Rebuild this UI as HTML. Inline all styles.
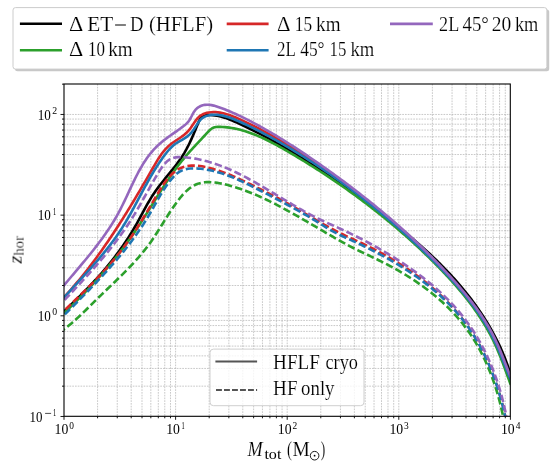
<!DOCTYPE html>
<html><head><meta charset="utf-8">
<style>
html,body{margin:0;padding:0;background:#fff;}
body{width:554px;height:468px;position:relative;overflow:hidden;font-family:"Liberation Serif",serif;color:#000;}
</style></head><body>
<svg width="554" height="468" viewBox="0 0 554 468" style="position:absolute;left:0;top:0">
<defs><clipPath id="pa"><rect x="64.00" y="84.00" width="446.30" height="332.30"/></clipPath></defs>
<path d="M97.59,84.00V416.30M117.25,84.00V416.30M131.19,84.00V416.30M142.01,84.00V416.30M150.84,84.00V416.30M158.31,84.00V416.30M164.78,84.00V416.30M170.49,84.00V416.30M175.60,84.00V416.30M209.19,84.00V416.30M228.85,84.00V416.30M242.79,84.00V416.30M253.61,84.00V416.30M262.44,84.00V416.30M269.91,84.00V416.30M276.38,84.00V416.30M282.09,84.00V416.30M287.20,84.00V416.30M320.79,84.00V416.30M340.45,84.00V416.30M354.39,84.00V416.30M365.21,84.00V416.30M374.04,84.00V416.30M381.51,84.00V416.30M387.98,84.00V416.30M393.69,84.00V416.30M398.80,84.00V416.30M432.39,84.00V416.30M452.05,84.00V416.30M465.99,84.00V416.30M476.81,84.00V416.30M485.64,84.00V416.30M493.11,84.00V416.30M499.58,84.00V416.30M505.29,84.00V416.30M64.00,386.17H510.30M64.00,368.44H510.30M64.00,355.86H510.30M64.00,346.10H510.30M64.00,338.13H510.30M64.00,331.39H510.30M64.00,325.56H510.30M64.00,320.41H510.30M64.00,315.80H510.30M64.00,285.50H510.30M64.00,267.77H510.30M64.00,255.19H510.30M64.00,245.43H510.30M64.00,237.46H510.30M64.00,230.72H510.30M64.00,224.89H510.30M64.00,219.74H510.30M64.00,215.13H510.30M64.00,184.83H510.30M64.00,167.10H510.30M64.00,154.52H510.30M64.00,144.76H510.30M64.00,136.79H510.30M64.00,130.05H510.30M64.00,124.22H510.30M64.00,119.07H510.30M64.00,114.46H510.30" stroke="#a4a4a4" stroke-width="0.6" stroke-dasharray="1.7 1.05" fill="none"/>
<g clip-path="url(#pa)" fill="none" stroke-width="2.6">
<path d="M49.95,325.46 L51.55,323.85 L53.15,322.24 L54.76,320.63 L56.37,319.03 L57.98,317.44 L59.60,315.85 L61.22,314.27 L62.84,312.68 L64.46,311.10 L66.08,309.53 L67.70,307.95 L69.32,306.37 L70.94,304.80 L72.56,303.22 L74.17,301.64 L75.78,300.07 L77.39,298.48 L79.00,296.90 L80.60,295.31 L82.19,293.71 L83.78,292.12 L85.37,290.51 L86.95,288.90 L88.52,287.28 L90.08,285.65 L91.64,284.02 L93.19,282.38 L94.73,280.72 L96.26,279.06 L97.78,277.38 L99.29,275.70 L100.79,274.00 L102.28,272.29 L103.76,270.57 L105.23,268.84 L106.68,267.10 L108.12,265.35 L109.56,263.59 L110.98,261.82 L112.38,260.03 L113.78,258.24 L115.16,256.43 L116.52,254.62 L117.88,252.80 L119.22,250.96 L120.54,249.12 L121.85,247.26 L123.15,245.40 L124.43,243.52 L125.70,241.64 L126.95,239.75 L128.18,237.84 L129.40,235.93 L130.61,234.01 L131.79,232.08 L132.96,230.14 L134.11,228.19 L135.25,226.23 L136.37,224.27 L137.47,222.29 L138.55,220.31 L139.63,218.32 L140.71,216.34 L141.78,214.35 L142.85,212.36 L143.92,210.37 L145.00,208.39 L146.09,206.42 L147.19,204.45 L148.31,202.49 L149.45,200.54 L150.61,198.61 L151.80,196.69 L153.02,194.79 L154.27,192.91 L155.56,191.05 L156.87,189.20 L158.22,187.38 L159.60,185.57 L160.99,183.77 L162.41,181.98 L163.84,180.20 L165.27,178.42 L166.72,176.66 L168.16,174.89 L169.61,173.12 L171.04,171.35 L172.47,169.58 L173.89,167.80 L175.28,166.01 L176.66,164.21 L178.01,162.40 L179.33,160.57 L180.62,158.73 L181.87,156.87 L183.07,154.99 L184.24,153.08 L185.36,151.15 L186.45,149.20 L187.49,147.23 L188.51,145.24 L189.50,143.22 L190.47,141.18 L191.41,139.12 L192.33,137.04 L193.24,134.94 L194.14,132.82 L195.04,130.68 L195.93,128.52 L196.82,126.34 L197.71,124.15 L198.62,121.94 L199.61,119.84 L200.77,117.99 L202.20,116.53 L203.98,115.59 L206.04,115.12 L208.26,114.98 L210.52,115.02 L212.76,115.17 L214.98,115.44 L217.18,115.80 L219.37,116.26 L221.54,116.81 L223.70,117.43 L225.85,118.13 L227.98,118.88 L230.11,119.69 L232.22,120.55 L234.32,121.45 L236.41,122.37 L238.50,123.32 L240.58,124.29 L242.65,125.26 L244.71,126.25 L246.77,127.24 L248.82,128.24 L250.87,129.25 L252.91,130.26 L254.94,131.29 L256.97,132.32 L258.99,133.36 L261.00,134.41 L263.01,135.47 L265.02,136.53 L267.02,137.60 L269.01,138.68 L271.00,139.77 L272.98,140.86 L274.96,141.96 L276.93,143.07 L278.90,144.19 L280.86,145.31 L282.82,146.44 L284.77,147.57 L286.72,148.72 L288.66,149.86 L290.60,151.02 L292.53,152.18 L294.46,153.35 L296.39,154.52 L298.31,155.71 L300.23,156.89 L302.14,158.09 L304.05,159.28 L305.95,160.49 L307.86,161.70 L309.75,162.92 L311.65,164.14 L313.54,165.36 L315.42,166.60 L317.31,167.83 L319.19,169.08 L321.06,170.32 L322.94,171.58 L324.81,172.84 L326.67,174.10 L328.54,175.37 L330.40,176.64 L332.26,177.91 L334.12,179.20 L335.97,180.48 L337.82,181.77 L339.67,183.07 L341.52,184.36 L343.36,185.67 L345.20,186.97 L347.04,188.28 L348.88,189.60 L350.72,190.91 L352.55,192.24 L354.38,193.56 L356.21,194.89 L358.04,196.22 L359.87,197.55 L361.69,198.89 L363.52,200.23 L365.34,201.58 L367.16,202.92 L368.99,204.27 L370.80,205.63 L372.62,206.98 L374.44,208.35 L376.25,209.71 L378.06,211.08 L379.87,212.45 L381.68,213.82 L383.48,215.20 L385.28,216.59 L387.07,217.98 L388.87,219.37 L390.66,220.77 L392.44,222.17 L394.22,223.58 L396.00,224.99 L397.78,226.41 L399.54,227.83 L401.31,229.26 L403.07,230.70 L404.82,232.14 L406.57,233.58 L408.31,235.04 L410.05,236.49 L411.78,237.96 L413.51,239.43 L415.23,240.91 L416.94,242.39 L418.65,243.89 L420.35,245.39 L422.04,246.89 L423.73,248.41 L425.41,249.93 L427.08,251.45 L428.75,252.99 L430.40,254.54 L432.05,256.09 L433.69,257.65 L435.32,259.22 L436.95,260.79 L438.56,262.38 L440.17,263.97 L441.76,265.58 L443.35,267.19 L444.93,268.81 L446.50,270.44 L448.06,272.08 L449.61,273.73 L451.15,275.39 L452.67,277.06 L454.19,278.73 L455.70,280.42 L457.20,282.12 L458.68,283.83 L460.15,285.55 L461.62,287.27 L463.06,289.01 L464.50,290.76 L465.93,292.52 L467.34,294.29 L468.74,296.06 L470.12,297.85 L471.49,299.65 L472.85,301.46 L474.19,303.27 L475.52,305.10 L476.83,306.94 L478.13,308.79 L479.42,310.65 L480.68,312.52 L481.94,314.39 L483.17,316.28 L484.39,318.18 L485.60,320.09 L486.78,322.01 L487.95,323.94 L489.11,325.88 L490.24,327.83 L491.36,329.80 L492.46,331.77 L493.54,333.75 L494.60,335.74 L495.64,337.74 L496.67,339.76 L497.67,341.78 L498.66,343.81 L499.62,345.86 L500.57,347.91 L501.49,349.98 L502.40,352.06 L503.28,354.14 L504.14,356.24 L504.98,358.35 L505.80,360.47 L506.60,362.60 L507.37,364.74 L508.12,366.89 L508.85,369.05 L509.56,371.22 L510.24,373.40" stroke="#000000" stroke-linejoin="round" stroke-linecap="round"/>
<path d="M49.85,325.89 L51.53,324.40 L53.21,322.91 L54.88,321.41 L56.54,319.91 L58.20,318.40 L59.86,316.89 L61.50,315.37 L63.14,313.85 L64.78,312.32 L66.41,310.78 L68.03,309.24 L69.65,307.70 L71.26,306.15 L72.86,304.59 L74.46,303.03 L76.05,301.46 L77.64,299.89 L79.22,298.31 L80.79,296.72 L82.36,295.13 L83.91,293.53 L85.47,291.93 L87.01,290.32 L88.55,288.70 L90.08,287.08 L91.60,285.45 L93.12,283.82 L94.63,282.17 L96.13,280.53 L97.62,278.87 L99.11,277.21 L100.59,275.55 L102.06,273.87 L103.52,272.19 L104.98,270.51 L106.42,268.82 L107.86,267.12 L109.30,265.41 L110.72,263.70 L112.13,261.98 L113.54,260.25 L114.94,258.52 L116.33,256.78 L117.71,255.03 L119.08,253.27 L120.44,251.51 L121.80,249.74 L123.15,247.97 L124.48,246.18 L125.81,244.39 L127.13,242.59 L128.44,240.79 L129.74,238.97 L131.03,237.15 L132.32,235.33 L133.59,233.49 L134.85,231.65 L136.11,229.79 L137.35,227.94 L138.59,226.07 L139.81,224.20 L141.03,222.32 L142.25,220.44 L143.46,218.55 L144.66,216.66 L145.86,214.77 L147.05,212.87 L148.24,210.97 L149.43,209.07 L150.62,207.17 L151.80,205.26 L152.99,203.36 L154.17,201.46 L155.36,199.56 L156.55,197.66 L157.74,195.77 L158.94,193.88 L160.13,191.99 L161.34,190.10 L162.55,188.22 L163.76,186.35 L164.98,184.48 L166.21,182.62 L167.44,180.77 L168.69,178.92 L169.94,177.09 L171.21,175.26 L172.49,173.44 L173.77,171.63 L175.07,169.84 L176.38,168.05 L177.71,166.28 L179.05,164.52 L180.41,162.77 L181.78,161.04 L183.17,159.32 L184.57,157.62 L186.00,155.93 L187.44,154.26 L188.89,152.60 L190.36,150.95 L191.85,149.31 L193.34,147.67 L194.84,146.04 L196.36,144.42 L197.88,142.79 L199.40,141.16 L200.93,139.53 L202.46,137.90 L204.00,136.25 L205.53,134.60 L207.06,132.94 L208.60,131.28 L210.19,129.73 L211.90,128.44 L213.79,127.53 L215.87,127.03 L218.08,126.84 L220.35,126.85 L222.62,126.95 L224.89,127.12 L227.14,127.34 L229.38,127.63 L231.60,127.97 L233.82,128.36 L236.01,128.80 L238.20,129.30 L240.37,129.84 L242.52,130.42 L244.65,131.05 L246.78,131.71 L248.88,132.42 L250.98,133.16 L253.05,133.94 L255.12,134.75 L257.17,135.60 L259.22,136.47 L261.25,137.37 L263.27,138.30 L265.28,139.26 L267.28,140.24 L269.27,141.24 L271.25,142.26 L273.22,143.30 L275.19,144.35 L277.15,145.42 L279.11,146.51 L281.06,147.60 L283.00,148.71 L284.94,149.82 L286.88,150.94 L288.81,152.07 L290.74,153.20 L292.67,154.34 L294.59,155.48 L296.51,156.63 L298.43,157.78 L300.34,158.93 L302.25,160.10 L304.16,161.26 L306.06,162.43 L307.96,163.61 L309.86,164.79 L311.75,165.98 L313.64,167.17 L315.52,168.37 L317.41,169.57 L319.28,170.78 L321.16,172.00 L323.03,173.21 L324.90,174.44 L326.76,175.67 L328.62,176.90 L330.48,178.14 L332.33,179.39 L334.18,180.64 L336.03,181.89 L337.87,183.15 L339.70,184.42 L341.54,185.69 L343.37,186.97 L345.19,188.25 L347.02,189.54 L348.83,190.83 L350.65,192.13 L352.46,193.43 L354.26,194.74 L356.07,196.06 L357.86,197.38 L359.66,198.70 L361.45,200.03 L363.23,201.37 L365.01,202.71 L366.79,204.06 L368.56,205.41 L370.33,206.77 L372.09,208.14 L373.85,209.51 L375.61,210.88 L377.36,212.26 L379.11,213.65 L380.85,215.04 L382.59,216.44 L384.32,217.84 L386.05,219.25 L387.77,220.67 L389.49,222.09 L391.21,223.51 L392.92,224.94 L394.63,226.38 L396.33,227.83 L398.02,229.27 L399.72,230.73 L401.40,232.19 L403.09,233.66 L404.77,235.13 L406.44,236.61 L408.11,238.09 L409.77,239.58 L411.43,241.08 L413.08,242.58 L414.73,244.08 L416.38,245.60 L418.02,247.12 L419.65,248.64 L421.28,250.17 L422.90,251.71 L424.52,253.25 L426.14,254.80 L427.74,256.35 L429.35,257.91 L430.95,259.48 L432.54,261.05 L434.13,262.63 L435.71,264.22 L437.29,265.81 L438.86,267.40 L440.42,269.01 L441.98,270.62 L443.53,272.24 L445.07,273.86 L446.60,275.50 L448.13,277.13 L449.64,278.78 L451.15,280.44 L452.64,282.10 L454.13,283.77 L455.60,285.45 L457.07,287.14 L458.52,288.84 L459.97,290.54 L461.40,292.25 L462.81,293.98 L464.22,295.71 L465.61,297.45 L466.99,299.20 L468.36,300.96 L469.71,302.73 L471.04,304.51 L472.37,306.30 L473.67,308.11 L474.96,309.92 L476.24,311.74 L477.50,313.57 L478.74,315.41 L479.96,317.27 L481.17,319.13 L482.36,321.01 L483.53,322.90 L484.69,324.80 L485.82,326.71 L486.94,328.64 L488.03,330.57 L489.11,332.52 L490.16,334.48 L491.20,336.45 L492.21,338.44 L493.20,340.44 L494.17,342.45 L495.12,344.48 L496.04,346.51 L496.95,348.56 L497.84,350.62 L498.70,352.69 L499.56,354.77 L500.39,356.85 L501.22,358.94 L502.03,361.04 L502.83,363.13 L503.62,365.23 L504.40,367.33 L505.17,369.43 L505.94,371.53 L506.70,373.62 L507.46,375.71 L508.21,377.80 L508.97,379.88 L509.72,381.95 L510.48,384.01" stroke="#2ca02c" stroke-linejoin="round" stroke-linecap="round"/>
<path d="M49.50,312.20 L51.14,310.60 L52.77,308.99 L54.38,307.37 L55.98,305.74 L57.57,304.11 L59.15,302.47 L60.72,300.82 L62.28,299.16 L63.82,297.50 L65.35,295.83 L66.88,294.15 L68.39,292.47 L69.89,290.77 L71.38,289.08 L72.86,287.37 L74.33,285.66 L75.79,283.94 L77.24,282.21 L78.69,280.48 L80.12,278.75 L81.54,277.00 L82.95,275.25 L84.36,273.49 L85.75,271.73 L87.14,269.96 L88.52,268.19 L89.88,266.41 L91.25,264.62 L92.60,262.83 L93.94,261.03 L95.28,259.23 L96.61,257.42 L97.93,255.60 L99.24,253.78 L100.55,251.96 L101.85,250.13 L103.14,248.30 L104.43,246.46 L105.71,244.61 L106.98,242.76 L108.24,240.91 L109.50,239.05 L110.76,237.19 L112.00,235.32 L113.25,233.45 L114.48,231.57 L115.71,229.69 L116.94,227.81 L118.16,225.92 L119.37,224.02 L120.58,222.13 L121.79,220.23 L122.99,218.32 L124.18,216.42 L125.38,214.50 L126.56,212.59 L127.75,210.67 L128.93,208.75 L130.10,206.82 L131.27,204.90 L132.44,202.97 L133.61,201.03 L134.77,199.09 L135.93,197.15 L137.08,195.21 L138.24,193.27 L139.39,191.32 L140.54,189.37 L141.68,187.41 L142.83,185.46 L143.97,183.50 L145.11,181.54 L146.25,179.58 L147.39,177.61 L148.52,175.65 L149.66,173.68 L150.79,171.71 L151.92,169.74 L153.05,167.77 L154.19,165.79 L155.33,163.83 L156.48,161.87 L157.65,159.94 L158.85,158.03 L160.09,156.16 L161.36,154.33 L162.69,152.55 L164.06,150.83 L165.50,149.16 L167.01,147.57 L168.59,146.05 L170.25,144.62 L171.99,143.26 L173.79,141.97 L175.64,140.72 L177.51,139.48 L179.39,138.24 L181.24,136.97 L183.06,135.65 L184.83,134.26 L186.52,132.77 L188.12,131.16 L189.60,129.41 L190.98,127.54 L192.30,125.60 L193.59,123.64 L194.88,121.70 L196.23,119.86 L197.65,118.14 L199.20,116.61 L200.91,115.31 L202.78,114.26 L204.78,113.46 L206.87,112.87 L209.02,112.46 L211.19,112.21 L213.36,112.12 L215.54,112.17 L217.72,112.35 L219.91,112.64 L222.09,113.05 L224.28,113.56 L226.47,114.16 L228.65,114.85 L230.83,115.60 L233.00,116.42 L235.16,117.29 L237.31,118.20 L239.45,119.14 L241.58,120.11 L243.70,121.09 L245.79,122.07 L247.88,123.07 L249.95,124.08 L252.01,125.09 L254.05,126.12 L256.08,127.15 L258.10,128.19 L260.11,129.24 L262.11,130.29 L264.10,131.36 L266.08,132.43 L268.05,133.51 L270.01,134.60 L271.97,135.70 L273.92,136.80 L275.86,137.91 L277.79,139.03 L279.72,140.16 L281.64,141.29 L283.56,142.43 L285.47,143.58 L287.39,144.73 L289.29,145.89 L291.20,147.05 L293.10,148.23 L295.00,149.41 L296.89,150.59 L298.79,151.78 L300.67,152.98 L302.56,154.19 L304.44,155.40 L306.32,156.62 L308.20,157.84 L310.07,159.07 L311.94,160.31 L313.81,161.55 L315.67,162.80 L317.53,164.05 L319.39,165.31 L321.24,166.58 L323.09,167.85 L324.94,169.13 L326.78,170.42 L328.62,171.71 L330.45,173.00 L332.29,174.30 L334.12,175.61 L335.94,176.93 L337.76,178.25 L339.58,179.57 L341.40,180.90 L343.21,182.24 L345.02,183.58 L346.82,184.93 L348.62,186.29 L350.42,187.65 L352.21,189.01 L354.00,190.38 L355.79,191.76 L357.57,193.14 L359.35,194.53 L361.13,195.92 L362.90,197.32 L364.67,198.72 L366.43,200.13 L368.19,201.54 L369.95,202.96 L371.70,204.38 L373.45,205.81 L375.20,207.25 L376.94,208.69 L378.68,210.13 L380.41,211.58 L382.14,213.04 L383.87,214.49 L385.59,215.96 L387.31,217.43 L389.03,218.90 L390.74,220.38 L392.44,221.87 L394.15,223.36 L395.84,224.85 L397.54,226.35 L399.23,227.85 L400.92,229.36 L402.60,230.87 L404.28,232.39 L405.95,233.91 L407.62,235.44 L409.29,236.97 L410.95,238.50 L412.61,240.04 L414.26,241.59 L415.91,243.13 L417.56,244.69 L419.20,246.24 L420.84,247.81 L422.47,249.37 L424.10,250.94 L425.73,252.52 L427.35,254.09 L428.96,255.68 L430.57,257.26 L432.18,258.85 L433.78,260.45 L435.38,262.05 L436.98,263.65 L438.56,265.26 L440.14,266.88 L441.72,268.49 L443.29,270.12 L444.85,271.75 L446.40,273.39 L447.95,275.03 L449.49,276.68 L451.02,278.34 L452.54,280.00 L454.05,281.67 L455.55,283.35 L457.03,285.03 L458.51,286.73 L459.98,288.43 L461.44,290.14 L462.88,291.86 L464.31,293.59 L465.73,295.33 L467.14,297.08 L468.53,298.84 L469.90,300.61 L471.27,302.39 L472.61,304.18 L473.95,305.98 L475.26,307.79 L476.56,309.61 L477.85,311.45 L479.12,313.29 L480.37,315.15 L481.60,317.02 L482.81,318.91 L484.01,320.80 L485.18,322.71 L486.34,324.64 L487.48,326.58 L488.59,328.53 L489.69,330.49 L490.77,332.47 L491.82,334.47 L492.85,336.48 L493.86,338.50 L494.85,340.54 L495.81,342.60 L496.76,344.67 L497.68,346.75 L498.59,348.84 L499.48,350.93 L500.36,353.04 L501.22,355.14 L502.08,357.25 L502.92,359.36 L503.76,361.47 L504.60,363.57 L505.43,365.66 L506.25,367.75 L507.08,369.83 L507.91,371.90 L508.74,373.95 L509.58,375.99 L510.43,378.01" stroke="#d62728" stroke-linejoin="round" stroke-linecap="round"/>
<path d="M50.11,313.85 L51.52,312.12 L52.95,310.41 L54.39,308.70 L55.84,306.99 L57.29,305.29 L58.76,303.60 L60.24,301.91 L61.72,300.23 L63.21,298.55 L64.70,296.87 L66.20,295.20 L67.71,293.53 L69.22,291.87 L70.74,290.20 L72.25,288.54 L73.77,286.88 L75.30,285.22 L76.82,283.55 L78.34,281.89 L79.86,280.23 L81.38,278.57 L82.90,276.90 L84.42,275.24 L85.94,273.57 L87.45,271.89 L88.96,270.22 L90.46,268.54 L91.95,266.85 L93.44,265.17 L94.93,263.47 L96.40,261.77 L97.87,260.07 L99.33,258.36 L100.78,256.64 L102.22,254.91 L103.65,253.18 L105.06,251.43 L106.47,249.68 L107.86,247.92 L109.24,246.15 L110.60,244.37 L111.95,242.58 L113.29,240.78 L114.61,238.97 L115.91,237.14 L117.19,235.31 L118.46,233.46 L119.71,231.59 L120.93,229.72 L122.14,227.83 L123.33,225.92 L124.51,224.01 L125.67,222.08 L126.81,220.15 L127.94,218.20 L129.06,216.25 L130.17,214.29 L131.27,212.32 L132.35,210.34 L133.44,208.36 L134.51,206.38 L135.58,204.39 L136.65,202.40 L137.71,200.41 L138.77,198.42 L139.83,196.43 L140.89,194.44 L141.95,192.45 L143.02,190.46 L144.09,188.47 L145.16,186.49 L146.24,184.52 L147.33,182.55 L148.43,180.58 L149.53,178.63 L150.65,176.68 L151.78,174.74 L152.92,172.81 L154.08,170.89 L155.25,168.98 L156.44,167.09 L157.64,165.21 L158.87,163.34 L160.11,161.49 L161.38,159.65 L162.67,157.83 L163.98,156.03 L165.32,154.24 L166.69,152.48 L168.10,150.76 L169.56,149.09 L171.09,147.49 L172.71,145.98 L174.43,144.56 L176.25,143.27 L178.16,142.06 L180.12,140.91 L182.10,139.78 L184.06,138.62 L185.96,137.40 L187.77,136.08 L189.45,134.62 L190.98,133.02 L192.41,131.28 L193.74,129.45 L195.02,127.54 L196.25,125.59 L197.50,123.64 L198.80,121.78 L200.21,120.06 L201.77,118.56 L203.52,117.33 L205.43,116.37 L207.47,115.66 L209.60,115.16 L211.78,114.86 L213.97,114.73 L216.16,114.75 L218.35,114.92 L220.53,115.21 L222.71,115.63 L224.88,116.15 L227.04,116.77 L229.20,117.47 L231.34,118.24 L233.48,119.07 L235.61,119.95 L237.73,120.86 L239.84,121.80 L241.94,122.75 L244.02,123.71 L246.10,124.68 L248.16,125.66 L250.21,126.64 L252.25,127.64 L254.29,128.64 L256.31,129.65 L258.32,130.67 L260.33,131.70 L262.32,132.74 L264.31,133.78 L266.29,134.84 L268.27,135.90 L270.23,136.97 L272.20,138.04 L274.15,139.13 L276.10,140.22 L278.04,141.32 L279.98,142.43 L281.91,143.54 L283.84,144.66 L285.77,145.79 L287.69,146.92 L289.61,148.06 L291.52,149.21 L293.43,150.36 L295.34,151.52 L297.25,152.69 L299.15,153.86 L301.05,155.04 L302.94,156.23 L304.83,157.42 L306.72,158.62 L308.60,159.83 L310.48,161.04 L312.36,162.26 L314.24,163.48 L316.11,164.71 L317.97,165.95 L319.84,167.19 L321.69,168.44 L323.55,169.70 L325.40,170.96 L327.25,172.23 L329.10,173.50 L330.94,174.78 L332.78,176.07 L334.61,177.36 L336.44,178.66 L338.27,179.96 L340.09,181.27 L341.91,182.59 L343.73,183.91 L345.54,185.24 L347.35,186.57 L349.15,187.91 L350.95,189.25 L352.75,190.60 L354.54,191.96 L356.33,193.32 L358.12,194.69 L359.90,196.06 L361.67,197.44 L363.45,198.83 L365.22,200.21 L366.98,201.61 L368.75,203.01 L370.50,204.42 L372.26,205.83 L374.01,207.24 L375.75,208.67 L377.50,210.09 L379.23,211.53 L380.97,212.96 L382.70,214.41 L384.43,215.86 L386.15,217.31 L387.87,218.77 L389.58,220.23 L391.29,221.70 L393.00,223.17 L394.70,224.65 L396.39,226.14 L398.09,227.63 L399.78,229.12 L401.46,230.62 L403.14,232.12 L404.82,233.63 L406.49,235.14 L408.16,236.66 L409.82,238.18 L411.48,239.71 L413.14,241.24 L414.79,242.78 L416.44,244.32 L418.08,245.87 L419.72,247.42 L421.35,248.97 L422.98,250.53 L424.61,252.10 L426.23,253.67 L427.84,255.24 L429.46,256.82 L431.06,258.40 L432.67,259.99 L434.27,261.58 L435.86,263.17 L437.45,264.77 L439.03,266.38 L440.61,267.99 L442.18,269.61 L443.74,271.23 L445.29,272.86 L446.84,274.49 L448.38,276.13 L449.91,277.78 L451.44,279.44 L452.95,281.10 L454.45,282.77 L455.94,284.45 L457.43,286.13 L458.90,287.83 L460.36,289.53 L461.80,291.24 L463.24,292.96 L464.66,294.69 L466.07,296.43 L467.47,298.18 L468.85,299.94 L470.22,301.70 L471.57,303.48 L472.91,305.27 L474.24,307.07 L475.54,308.89 L476.83,310.71 L478.11,312.54 L479.37,314.39 L480.61,316.25 L481.83,318.12 L483.03,320.00 L484.22,321.90 L485.38,323.81 L486.53,325.73 L487.66,327.67 L488.76,329.62 L489.85,331.58 L490.92,333.56 L491.96,335.56 L492.98,337.56 L493.98,339.59 L494.96,341.62 L495.91,343.68 L496.84,345.74 L497.76,347.82 L498.66,349.90 L499.54,352.00 L500.41,354.09 L501.26,356.20 L502.11,358.30 L502.95,360.40 L503.78,362.50 L504.61,364.60 L505.44,366.69 L506.26,368.77 L507.09,370.85 L507.91,372.91 L508.74,374.96 L509.58,376.99 L510.43,379.01" stroke="#1f77b4" stroke-linejoin="round" stroke-linecap="round"/>
<path d="M50.13,302.63 L51.51,300.83 L52.91,299.04 L54.31,297.26 L55.72,295.48 L57.14,293.71 L58.56,291.95 L60.00,290.19 L61.43,288.44 L62.88,286.69 L64.32,284.95 L65.78,283.21 L67.23,281.48 L68.69,279.74 L70.15,278.01 L71.61,276.28 L73.07,274.56 L74.53,272.83 L75.99,271.10 L77.45,269.37 L78.91,267.65 L80.36,265.92 L81.81,264.19 L83.26,262.45 L84.70,260.72 L86.14,258.98 L87.57,257.23 L89.00,255.48 L90.42,253.73 L91.83,251.97 L93.23,250.21 L94.62,248.44 L96.01,246.66 L97.38,244.87 L98.74,243.08 L100.09,241.28 L101.43,239.46 L102.75,237.64 L104.06,235.81 L105.36,233.97 L106.64,232.11 L107.91,230.25 L109.16,228.37 L110.39,226.48 L111.61,224.58 L112.81,222.66 L113.99,220.73 L115.15,218.78 L116.29,216.82 L117.41,214.84 L118.50,212.85 L119.58,210.84 L120.63,208.81 L121.67,206.77 L122.69,204.72 L123.70,202.66 L124.70,200.59 L125.68,198.51 L126.66,196.43 L127.64,194.35 L128.61,192.26 L129.58,190.17 L130.55,188.09 L131.53,186.01 L132.51,183.94 L133.50,181.88 L134.50,179.82 L135.51,177.78 L136.54,175.75 L137.59,173.73 L138.65,171.73 L139.74,169.75 L140.84,167.79 L141.98,165.86 L143.14,163.94 L144.33,162.05 L145.56,160.19 L146.82,158.36 L148.11,156.56 L149.44,154.79 L150.82,153.06 L152.24,151.36 L153.70,149.71 L155.21,148.09 L156.77,146.51 L158.38,144.98 L160.05,143.49 L161.76,142.04 L163.52,140.63 L165.30,139.25 L167.12,137.89 L168.95,136.56 L170.81,135.24 L172.67,133.93 L174.53,132.63 L176.38,131.33 L178.23,130.02 L180.05,128.71 L181.85,127.38 L183.62,126.04 L185.34,124.65 L186.96,123.18 L188.43,121.56 L189.70,119.74 L190.82,117.76 L191.87,115.72 L192.92,113.68 L194.07,111.71 L195.37,109.91 L196.92,108.34 L198.69,107.04 L200.65,106.02 L202.73,105.28 L204.88,104.84 L207.06,104.69 L209.27,104.80 L211.48,105.12 L213.70,105.62 L215.92,106.25 L218.13,106.96 L220.32,107.73 L222.49,108.53 L224.65,109.34 L226.78,110.18 L228.90,111.05 L231.00,111.93 L233.09,112.83 L235.17,113.76 L237.23,114.70 L239.27,115.66 L241.31,116.63 L243.34,117.62 L245.35,118.63 L247.36,119.65 L249.36,120.68 L251.35,121.72 L253.34,122.78 L255.33,123.84 L257.30,124.91 L259.28,126.00 L261.25,127.09 L263.21,128.19 L265.17,129.30 L267.13,130.42 L269.08,131.55 L271.03,132.69 L272.97,133.84 L274.91,134.99 L276.84,136.15 L278.77,137.32 L280.70,138.50 L282.62,139.68 L284.54,140.88 L286.46,142.07 L288.37,143.28 L290.28,144.49 L292.18,145.71 L294.08,146.94 L295.98,148.17 L297.88,149.41 L299.77,150.66 L301.65,151.91 L303.54,153.16 L305.42,154.42 L307.30,155.69 L309.17,156.96 L311.04,158.24 L312.91,159.52 L314.78,160.80 L316.64,162.09 L318.50,163.39 L320.36,164.68 L322.21,165.98 L324.06,167.29 L325.91,168.60 L327.76,169.91 L329.60,171.23 L331.44,172.55 L333.28,173.88 L335.12,175.21 L336.95,176.54 L338.78,177.88 L340.60,179.22 L342.43,180.56 L344.25,181.91 L346.06,183.27 L347.87,184.63 L349.68,185.99 L351.49,187.36 L353.29,188.73 L355.09,190.10 L356.89,191.48 L358.68,192.87 L360.47,194.26 L362.25,195.65 L364.03,197.05 L365.81,198.45 L367.58,199.86 L369.35,201.27 L371.12,202.68 L372.88,204.10 L374.64,205.53 L376.39,206.96 L378.14,208.40 L379.89,209.84 L381.63,211.28 L383.37,212.73 L385.10,214.18 L386.83,215.64 L388.55,217.11 L390.27,218.58 L391.99,220.05 L393.70,221.53 L395.40,223.01 L397.10,224.50 L398.80,226.00 L400.49,227.49 L402.18,229.00 L403.87,230.51 L405.54,232.02 L407.22,233.54 L408.88,235.07 L410.55,236.60 L412.21,238.14 L413.86,239.68 L415.51,241.22 L417.15,242.78 L418.79,244.33 L420.42,245.90 L422.05,247.47 L423.67,249.04 L425.29,250.62 L426.90,252.20 L428.51,253.80 L430.11,255.39 L431.70,256.99 L433.29,258.60 L434.88,260.22 L436.45,261.84 L438.03,263.46 L439.59,265.09 L441.15,266.73 L442.71,268.37 L444.26,270.02 L445.80,271.68 L447.34,273.34 L448.87,275.00 L450.40,276.68 L451.91,278.36 L453.43,280.04 L454.93,281.73 L456.43,283.43 L457.92,285.14 L459.40,286.85 L460.87,288.57 L462.34,290.30 L463.79,292.03 L465.23,293.78 L466.66,295.53 L468.07,297.29 L469.48,299.07 L470.87,300.85 L472.24,302.64 L473.61,304.44 L474.95,306.25 L476.28,308.07 L477.60,309.90 L478.90,311.75 L480.18,313.61 L481.44,315.47 L482.68,317.35 L483.91,319.24 L485.11,321.15 L486.29,323.07 L487.46,325.00 L488.60,326.94 L489.72,328.90 L490.81,330.87 L491.89,332.86 L492.94,334.86 L493.96,336.87 L494.96,338.90 L495.93,340.95 L496.89,343.01 L497.82,345.08 L498.73,347.16 L499.62,349.25 L500.50,351.34 L501.36,353.45 L502.22,355.55 L503.06,357.66 L503.90,359.77 L504.73,361.88 L505.55,363.99 L506.37,366.09 L507.19,368.19 L508.02,370.28 L508.84,372.36 L509.68,374.44 L510.51,376.50" stroke="#9467bd" stroke-linejoin="round" stroke-linecap="round"/>
<path d="M50.03,323.88 L51.54,322.44 L53.06,321.01 L54.58,319.57 L56.11,318.13 L57.64,316.68 L59.18,315.24 L60.73,313.78 L62.28,312.33 L63.83,310.87 L65.38,309.41 L66.94,307.94 L68.50,306.47 L70.06,305.00 L71.62,303.52 L73.19,302.04 L74.75,300.55 L76.31,299.06 L77.87,297.56 L79.43,296.06 L80.99,294.56 L82.54,293.05 L84.09,291.53 L85.64,290.01 L87.18,288.49 L88.72,286.96 L90.26,285.42 L91.78,283.88 L93.31,282.33 L94.82,280.78 L96.33,279.22 L97.83,277.66 L99.32,276.09 L100.81,274.52 L102.28,272.93 L103.75,271.35 L105.20,269.75 L106.64,268.15 L108.08,266.55 L109.50,264.93 L110.90,263.31 L112.30,261.69 L113.68,260.05 L115.05,258.41 L116.41,256.76 L117.74,255.11 L119.07,253.45 L120.38,251.78 L121.67,250.10 L122.95,248.42 L124.21,246.73 L125.45,245.03 L126.69,243.32 L127.91,241.60 L129.12,239.88 L130.32,238.15 L131.50,236.41 L132.68,234.66 L133.85,232.90 L135.01,231.14 L136.16,229.37 L137.30,227.58 L138.44,225.79 L139.57,223.99 L140.70,222.18 L141.83,220.37 L142.95,218.54 L144.07,216.70 L145.18,214.86 L146.30,213.00 L147.41,211.14 L148.53,209.26 L149.65,207.38 L150.76,205.49 L151.89,203.58 L153.01,201.67 L154.14,199.74 L155.27,197.81 L156.41,195.87 L157.55,193.91 L158.71,191.97 L159.88,190.02 L161.07,188.10 L162.28,186.21 L163.52,184.34 L164.78,182.52 L166.07,180.75 L167.40,179.04 L168.77,177.40 L170.18,175.83 L171.64,174.35 L173.15,172.96 L174.71,171.66 L176.32,170.48 L178.00,169.41 L179.74,168.47 L181.54,167.66 L183.40,166.98 L185.32,166.44 L187.29,166.02 L189.31,165.74 L191.37,165.58 L193.45,165.54 L195.57,165.60 L197.71,165.77 L199.86,166.01 L202.01,166.34 L204.18,166.74 L206.33,167.19 L208.48,167.69 L210.61,168.23 L212.72,168.81 L214.81,169.42 L216.88,170.06 L218.94,170.73 L220.99,171.43 L223.02,172.16 L225.03,172.91 L227.03,173.69 L229.03,174.49 L231.01,175.30 L232.98,176.14 L234.94,177.00 L236.89,177.87 L238.83,178.76 L240.77,179.66 L242.70,180.57 L244.63,181.49 L246.55,182.42 L248.47,183.35 L250.39,184.29 L252.31,185.23 L254.22,186.18 L256.14,187.13 L258.05,188.08 L259.97,189.03 L261.88,189.98 L263.79,190.94 L265.70,191.90 L267.61,192.87 L269.51,193.84 L271.42,194.81 L273.32,195.80 L275.21,196.78 L277.11,197.77 L279.00,198.77 L280.89,199.78 L282.77,200.79 L284.65,201.82 L286.53,202.85 L288.40,203.89 L290.26,204.93 L292.13,205.99 L293.99,207.05 L295.84,208.12 L297.70,209.19 L299.55,210.27 L301.40,211.35 L303.24,212.43 L305.09,213.51 L306.94,214.60 L308.79,215.68 L310.63,216.77 L312.48,217.85 L314.33,218.93 L316.18,220.01 L318.03,221.08 L319.89,222.15 L321.75,223.21 L323.61,224.27 L325.48,225.31 L327.35,226.35 L329.22,227.39 L331.10,228.41 L332.99,229.42 L334.88,230.42 L336.77,231.40 L338.68,232.37 L340.59,233.33 L342.51,234.28 L344.44,235.21 L346.37,236.12 L348.31,237.02 L350.26,237.91 L352.20,238.80 L354.15,239.69 L356.10,240.57 L358.05,241.46 L359.99,242.36 L361.93,243.27 L363.86,244.18 L365.79,245.11 L367.71,246.05 L369.62,247.00 L371.53,247.96 L373.44,248.94 L375.34,249.92 L377.23,250.92 L379.11,251.93 L380.99,252.94 L382.87,253.97 L384.73,255.02 L386.60,256.07 L388.45,257.14 L390.30,258.21 L392.14,259.30 L393.98,260.40 L395.81,261.52 L397.63,262.64 L399.45,263.78 L401.26,264.93 L403.06,266.10 L404.86,267.27 L406.65,268.46 L408.43,269.66 L410.20,270.87 L411.96,272.10 L413.72,273.34 L415.47,274.59 L417.20,275.85 L418.93,277.13 L420.65,278.42 L422.36,279.73 L424.05,281.04 L425.74,282.37 L427.41,283.72 L429.07,285.07 L430.73,286.45 L432.36,287.83 L433.99,289.23 L435.60,290.64 L437.20,292.06 L438.79,293.50 L440.36,294.96 L441.92,296.42 L443.47,297.90 L445.00,299.40 L446.51,300.91 L448.01,302.43 L449.49,303.97 L450.96,305.52 L452.41,307.09 L453.85,308.67 L455.27,310.27 L456.67,311.88 L458.05,313.50 L459.41,315.14 L460.76,316.79 L462.09,318.46 L463.40,320.15 L464.69,321.85 L465.96,323.56 L467.21,325.29 L468.44,327.04 L469.65,328.80 L470.84,330.57 L472.01,332.36 L473.17,334.16 L474.30,335.97 L475.41,337.80 L476.50,339.64 L477.58,341.50 L478.63,343.36 L479.67,345.24 L480.69,347.13 L481.69,349.03 L482.67,350.94 L483.63,352.86 L484.58,354.79 L485.50,356.73 L486.41,358.68 L487.30,360.64 L488.17,362.60 L489.03,364.58 L489.87,366.56 L490.69,368.55 L491.49,370.55 L492.28,372.55 L493.05,374.56 L493.80,376.58 L494.54,378.60 L495.25,380.63 L495.96,382.66 L496.64,384.70 L497.32,386.74 L497.97,388.78 L498.61,390.83 L499.23,392.88 L499.84,394.93 L500.43,396.99 L501.01,399.05 L501.57,401.11 L502.11,403.17 L502.65,405.24 L503.16,407.30 L503.66,409.36 L504.15,411.43 L504.62,413.49 L505.08,415.55 L505.52,417.62" stroke="#d62728" stroke-dasharray="7.4 3.2"/>
<path d="M49.91,338.92 L51.75,337.83 L53.57,336.72 L55.35,335.57 L57.11,334.40 L58.85,333.21 L60.56,332.00 L62.25,330.76 L63.92,329.50 L65.57,328.22 L67.19,326.92 L68.80,325.60 L70.40,324.26 L71.97,322.91 L73.53,321.55 L75.08,320.17 L76.62,318.77 L78.15,317.37 L79.67,315.95 L81.17,314.53 L82.68,313.09 L84.17,311.65 L85.66,310.20 L87.15,308.75 L88.63,307.29 L90.12,305.83 L91.60,304.36 L93.08,302.89 L94.57,301.43 L96.06,299.96 L97.56,298.49 L99.06,297.03 L100.57,295.57 L102.08,294.11 L103.59,292.65 L105.11,291.20 L106.63,289.74 L108.15,288.28 L109.67,286.82 L111.19,285.36 L112.71,283.90 L114.23,282.44 L115.75,280.97 L117.26,279.51 L118.77,278.03 L120.27,276.56 L121.77,275.08 L123.26,273.59 L124.75,272.10 L126.23,270.60 L127.70,269.10 L129.16,267.59 L130.61,266.08 L132.05,264.55 L133.47,263.02 L134.89,261.48 L136.29,259.93 L137.68,258.37 L139.06,256.80 L140.42,255.22 L141.76,253.63 L143.09,252.03 L144.40,250.41 L145.69,248.79 L146.96,247.15 L148.21,245.50 L149.45,243.83 L150.66,242.15 L151.85,240.46 L153.02,238.75 L154.17,237.03 L155.32,235.30 L156.44,233.56 L157.56,231.81 L158.68,230.06 L159.78,228.29 L160.88,226.52 L161.99,224.75 L163.09,222.97 L164.19,221.19 L165.30,219.40 L166.42,217.62 L167.55,215.83 L168.69,214.05 L169.84,212.26 L171.01,210.48 L172.20,208.71 L173.41,206.94 L174.64,205.17 L175.90,203.41 L177.18,201.66 L178.49,199.92 L179.84,198.21 L181.21,196.54 L182.62,194.91 L184.07,193.33 L185.55,191.83 L187.08,190.40 L188.65,189.05 L190.26,187.81 L191.92,186.67 L193.62,185.65 L195.38,184.75 L197.19,184.00 L199.04,183.38 L200.95,182.90 L202.89,182.53 L204.87,182.29 L206.89,182.15 L208.93,182.12 L210.99,182.18 L213.08,182.32 L215.18,182.54 L217.29,182.84 L219.41,183.19 L221.53,183.61 L223.65,184.07 L225.76,184.57 L227.86,185.11 L229.94,185.67 L232.01,186.26 L234.06,186.86 L236.10,187.49 L238.12,188.14 L240.12,188.81 L242.12,189.49 L244.09,190.20 L246.06,190.93 L248.02,191.67 L249.96,192.43 L251.90,193.21 L253.82,194.00 L255.74,194.81 L257.65,195.64 L259.55,196.48 L261.44,197.34 L263.33,198.20 L265.21,199.09 L267.09,199.98 L268.96,200.89 L270.83,201.81 L272.69,202.74 L274.55,203.68 L276.40,204.63 L278.25,205.59 L280.10,206.56 L281.94,207.54 L283.78,208.53 L285.61,209.52 L287.44,210.53 L289.27,211.54 L291.10,212.56 L292.92,213.58 L294.74,214.61 L296.56,215.64 L298.38,216.68 L300.19,217.73 L302.00,218.78 L303.82,219.83 L305.63,220.88 L307.44,221.94 L309.25,223.00 L311.05,224.06 L312.86,225.12 L314.67,226.18 L316.48,227.24 L318.28,228.30 L320.09,229.36 L321.90,230.42 L323.71,231.48 L325.52,232.54 L327.33,233.59 L329.15,234.64 L330.96,235.68 L332.78,236.73 L334.59,237.76 L336.41,238.80 L338.24,239.82 L340.06,240.84 L341.89,241.86 L343.72,242.87 L345.56,243.87 L347.39,244.86 L349.24,245.84 L351.08,246.81 L352.94,247.77 L354.79,248.72 L356.66,249.65 L358.53,250.57 L360.41,251.48 L362.29,252.38 L364.18,253.27 L366.06,254.15 L367.95,255.04 L369.83,255.93 L371.70,256.83 L373.58,257.73 L375.45,258.63 L377.31,259.54 L379.17,260.46 L381.03,261.39 L382.89,262.32 L384.74,263.26 L386.58,264.21 L388.43,265.18 L390.26,266.15 L392.10,267.13 L393.93,268.13 L395.75,269.14 L397.57,270.17 L399.39,271.21 L401.20,272.26 L403.01,273.33 L404.80,274.41 L406.60,275.50 L408.38,276.61 L410.16,277.74 L411.93,278.87 L413.69,280.03 L415.44,281.19 L417.19,282.37 L418.92,283.57 L420.65,284.78 L422.36,286.00 L424.07,287.24 L425.76,288.49 L427.44,289.76 L429.11,291.04 L430.77,292.34 L432.42,293.65 L434.05,294.97 L435.67,296.31 L437.28,297.67 L438.87,299.04 L440.45,300.43 L442.01,301.83 L443.56,303.24 L445.09,304.68 L446.61,306.12 L448.11,307.58 L449.59,309.06 L451.06,310.55 L452.51,312.06 L453.94,313.58 L455.35,315.12 L456.75,316.68 L458.12,318.25 L459.48,319.83 L460.81,321.44 L462.13,323.05 L463.42,324.69 L464.70,326.33 L465.95,328.00 L467.18,329.68 L468.39,331.37 L469.58,333.08 L470.75,334.81 L471.90,336.55 L473.02,338.30 L474.13,340.07 L475.22,341.84 L476.29,343.64 L477.33,345.44 L478.36,347.26 L479.37,349.09 L480.36,350.93 L481.33,352.78 L482.28,354.64 L483.21,356.51 L484.12,358.39 L485.02,360.29 L485.89,362.19 L486.75,364.10 L487.59,366.02 L488.41,367.95 L489.21,369.89 L489.99,371.83 L490.76,373.79 L491.51,375.75 L492.24,377.71 L492.96,379.69 L493.65,381.67 L494.33,383.65 L495.00,385.65 L495.65,387.64 L496.28,389.64 L496.89,391.65 L497.49,393.66 L498.07,395.68 L498.63,397.70 L499.18,399.72 L499.72,401.74 L500.23,403.77 L500.74,405.80 L501.22,407.83 L501.70,409.87 L502.15,411.90 L502.59,413.94 L503.02,415.98 L503.43,418.02" stroke="#2ca02c" stroke-dasharray="7.4 3.2"/>
<path d="M49.98,329.54 L51.49,328.00 L53.00,326.46 L54.51,324.92 L56.02,323.38 L57.53,321.84 L59.04,320.31 L60.56,318.78 L62.07,317.25 L63.59,315.72 L65.10,314.19 L66.62,312.67 L68.13,311.14 L69.65,309.62 L71.17,308.09 L72.68,306.57 L74.19,305.04 L75.70,303.52 L77.21,301.99 L78.72,300.47 L80.23,298.94 L81.73,297.41 L83.24,295.88 L84.74,294.35 L86.23,292.82 L87.73,291.28 L89.22,289.74 L90.71,288.20 L92.19,286.66 L93.67,285.12 L95.14,283.57 L96.61,282.01 L98.08,280.46 L99.54,278.90 L101.00,277.33 L102.45,275.77 L103.89,274.19 L105.33,272.62 L106.77,271.03 L108.20,269.45 L109.62,267.85 L111.03,266.26 L112.44,264.65 L113.84,263.04 L115.23,261.43 L116.62,259.80 L118.00,258.17 L119.37,256.54 L120.73,254.89 L122.08,253.24 L123.43,251.59 L124.76,249.92 L126.09,248.25 L127.41,246.56 L128.72,244.87 L130.01,243.18 L131.30,241.47 L132.58,239.75 L133.85,238.02 L135.10,236.29 L136.35,234.54 L137.59,232.79 L138.81,231.02 L140.02,229.25 L141.22,227.46 L142.41,225.66 L143.58,223.86 L144.75,222.04 L145.90,220.21 L147.04,218.36 L148.16,216.51 L149.27,214.64 L150.37,212.77 L151.46,210.88 L152.53,208.98 L153.60,207.07 L154.67,205.17 L155.74,203.26 L156.81,201.36 L157.89,199.46 L158.98,197.56 L160.08,195.68 L161.19,193.81 L162.33,191.96 L163.48,190.12 L164.67,188.31 L165.88,186.51 L167.12,184.75 L168.39,183.01 L169.71,181.31 L171.06,179.64 L172.46,178.00 L173.91,176.42 L175.41,174.91 L176.98,173.52 L178.63,172.28 L180.37,171.23 L182.20,170.37 L184.10,169.68 L186.06,169.16 L188.09,168.79 L190.15,168.55 L192.26,168.43 L194.38,168.41 L196.52,168.48 L198.67,168.62 L200.80,168.82 L202.93,169.07 L205.05,169.37 L207.16,169.72 L209.26,170.12 L211.34,170.56 L213.42,171.04 L215.50,171.57 L217.56,172.13 L219.61,172.73 L221.66,173.37 L223.69,174.04 L225.72,174.74 L227.74,175.48 L229.76,176.24 L231.76,177.03 L233.76,177.85 L235.75,178.69 L237.74,179.55 L239.72,180.44 L241.69,181.34 L243.65,182.25 L245.61,183.19 L247.56,184.13 L249.51,185.09 L251.45,186.06 L253.39,187.03 L255.32,188.02 L257.24,189.00 L259.16,189.99 L261.08,190.98 L262.99,191.97 L264.89,192.96 L266.79,193.95 L268.69,194.93 L270.59,195.91 L272.47,196.90 L274.36,197.88 L276.24,198.87 L278.12,199.85 L280.00,200.84 L281.87,201.83 L283.74,202.82 L285.61,203.82 L287.47,204.82 L289.34,205.83 L291.20,206.83 L293.06,207.85 L294.91,208.87 L296.77,209.90 L298.62,210.93 L300.47,211.97 L302.32,213.02 L304.17,214.08 L306.02,215.15 L307.87,216.23 L309.72,217.31 L311.57,218.41 L313.42,219.52 L315.27,220.64 L317.11,221.77 L318.96,222.92 L320.81,224.08 L322.66,225.25 L324.52,226.42 L326.37,227.58 L328.23,228.72 L330.10,229.84 L331.97,230.93 L333.86,231.97 L335.75,232.97 L337.65,233.93 L339.56,234.86 L341.47,235.76 L343.38,236.65 L345.30,237.53 L347.23,238.39 L349.15,239.26 L351.08,240.13 L353.01,241.01 L354.93,241.90 L356.86,242.79 L358.79,243.70 L360.72,244.61 L362.64,245.54 L364.56,246.47 L366.49,247.41 L368.41,248.36 L370.32,249.33 L372.24,250.30 L374.15,251.28 L376.06,252.27 L377.97,253.27 L379.87,254.28 L381.77,255.30 L383.66,256.33 L385.55,257.37 L387.43,258.42 L389.31,259.49 L391.19,260.56 L393.05,261.65 L394.91,262.74 L396.77,263.85 L398.61,264.97 L400.45,266.10 L402.29,267.24 L404.11,268.39 L405.93,269.56 L407.74,270.74 L409.53,271.92 L411.33,273.13 L413.11,274.34 L414.88,275.57 L416.64,276.80 L418.39,278.06 L420.13,279.32 L421.86,280.60 L423.58,281.89 L425.28,283.19 L426.98,284.51 L428.66,285.84 L430.33,287.18 L431.99,288.54 L433.63,289.91 L435.26,291.29 L436.88,292.69 L438.48,294.11 L440.07,295.53 L441.65,296.97 L443.21,298.43 L444.75,299.90 L446.28,301.39 L447.79,302.89 L449.29,304.40 L450.77,305.93 L452.23,307.48 L453.68,309.04 L455.11,310.61 L456.52,312.20 L457.91,313.81 L459.29,315.43 L460.64,317.07 L461.98,318.73 L463.30,320.40 L464.60,322.09 L465.88,323.79 L467.14,325.51 L468.37,327.25 L469.59,329.00 L470.79,330.77 L471.97,332.56 L473.12,334.36 L474.26,336.17 L475.38,338.00 L476.48,339.84 L477.56,341.69 L478.62,343.56 L479.66,345.44 L480.68,347.34 L481.68,349.24 L482.66,351.15 L483.63,353.08 L484.58,355.02 L485.50,356.96 L486.41,358.92 L487.31,360.88 L488.18,362.86 L489.04,364.84 L489.88,366.83 L490.70,368.83 L491.50,370.83 L492.29,372.84 L493.06,374.86 L493.81,376.88 L494.55,378.91 L495.27,380.94 L495.97,382.98 L496.65,385.02 L497.32,387.06 L497.98,389.11 L498.62,391.16 L499.24,393.21 L499.84,395.27 L500.43,397.32 L501.01,399.38 L501.57,401.44 L502.11,403.49 L502.64,405.55 L503.16,407.61 L503.66,409.66 L504.14,411.72 L504.61,413.77 L505.07,415.82 L505.51,417.87" stroke="#1f77b4" stroke-dasharray="7.4 3.2"/>
<path d="M50.07,315.43 L51.52,313.87 L52.97,312.31 L54.43,310.76 L55.90,309.20 L57.36,307.63 L58.83,306.07 L60.31,304.51 L61.78,302.94 L63.26,301.37 L64.75,299.80 L66.23,298.23 L67.71,296.65 L69.20,295.07 L70.69,293.49 L72.17,291.91 L73.66,290.32 L75.15,288.73 L76.64,287.14 L78.12,285.54 L79.61,283.94 L81.09,282.34 L82.57,280.73 L84.04,279.12 L85.52,277.51 L86.99,275.89 L88.46,274.27 L89.92,272.64 L91.38,271.01 L92.83,269.38 L94.28,267.74 L95.73,266.10 L97.16,264.45 L98.60,262.80 L100.02,261.14 L101.44,259.47 L102.85,257.81 L104.25,256.13 L105.65,254.45 L107.03,252.77 L108.41,251.08 L109.78,249.38 L111.14,247.68 L112.48,245.97 L113.82,244.26 L115.15,242.54 L116.47,240.81 L117.77,239.08 L119.07,237.34 L120.35,235.60 L121.62,233.84 L122.87,232.08 L124.11,230.32 L125.34,228.54 L126.56,226.76 L127.76,224.97 L128.94,223.18 L130.11,221.37 L131.27,219.56 L132.41,217.74 L133.54,215.92 L134.65,214.08 L135.75,212.24 L136.84,210.39 L137.93,208.53 L139.01,206.67 L140.08,204.80 L141.14,202.92 L142.21,201.04 L143.27,199.15 L144.33,197.25 L145.40,195.35 L146.47,193.44 L147.54,191.52 L148.61,189.60 L149.70,187.67 L150.79,185.73 L151.89,183.79 L153.00,181.85 L154.13,179.89 L155.27,177.94 L156.42,175.97 L157.59,174.00 L158.78,172.04 L160.00,170.09 L161.26,168.19 L162.56,166.37 L163.93,164.64 L165.36,163.04 L166.86,161.59 L168.46,160.31 L170.15,159.23 L171.95,158.37 L173.86,157.75 L175.86,157.36 L177.95,157.15 L180.09,157.09 L182.26,157.14 L184.45,157.28 L186.63,157.46 L188.80,157.70 L190.96,157.97 L193.11,158.28 L195.26,158.64 L197.39,159.03 L199.52,159.46 L201.64,159.93 L203.74,160.43 L205.84,160.97 L207.93,161.55 L210.02,162.15 L212.09,162.79 L214.15,163.46 L216.21,164.15 L218.26,164.88 L220.30,165.63 L222.33,166.41 L224.35,167.22 L226.37,168.05 L228.37,168.90 L230.37,169.78 L232.36,170.68 L234.34,171.59 L236.32,172.53 L238.29,173.48 L240.25,174.45 L242.20,175.44 L244.14,176.44 L246.08,177.46 L248.01,178.48 L249.93,179.52 L251.84,180.57 L253.75,181.63 L255.65,182.70 L257.54,183.78 L259.43,184.86 L261.31,185.95 L263.19,187.05 L265.06,188.15 L266.93,189.26 L268.79,190.37 L270.65,191.48 L272.51,192.59 L274.37,193.71 L276.22,194.83 L278.08,195.95 L279.93,197.06 L281.78,198.18 L283.63,199.30 L285.49,200.41 L287.34,201.52 L289.20,202.63 L291.06,203.73 L292.92,204.83 L294.78,205.92 L296.65,207.00 L298.52,208.08 L300.40,209.15 L302.29,210.21 L304.17,211.26 L306.07,212.31 L307.97,213.34 L309.88,214.36 L311.80,215.37 L313.72,216.37 L315.65,217.35 L317.60,218.32 L319.55,219.28 L321.51,220.22 L323.48,221.14 L325.47,222.06 L327.45,222.96 L329.44,223.86 L331.44,224.75 L333.43,225.64 L335.42,226.53 L337.41,227.42 L339.39,228.32 L341.37,229.23 L343.34,230.15 L345.30,231.07 L347.26,232.00 L349.21,232.93 L351.16,233.88 L353.10,234.83 L355.04,235.79 L356.97,236.76 L358.89,237.73 L360.81,238.71 L362.73,239.71 L364.64,240.71 L366.54,241.72 L368.45,242.73 L370.34,243.76 L372.24,244.80 L374.13,245.84 L376.01,246.89 L377.89,247.96 L379.77,249.03 L381.64,250.11 L383.51,251.20 L385.38,252.30 L387.25,253.41 L389.11,254.53 L390.96,255.66 L392.81,256.80 L394.66,257.95 L396.50,259.12 L398.34,260.29 L400.17,261.47 L402.00,262.66 L403.82,263.87 L405.63,265.08 L407.43,266.31 L409.23,267.55 L411.02,268.80 L412.80,270.06 L414.57,271.33 L416.34,272.61 L418.09,273.91 L419.84,275.22 L421.58,276.54 L423.30,277.87 L425.02,279.22 L426.72,280.57 L428.41,281.94 L430.10,283.33 L431.77,284.72 L433.42,286.13 L435.07,287.55 L436.70,288.99 L438.32,290.44 L439.92,291.90 L441.51,293.37 L443.09,294.86 L444.65,296.37 L446.20,297.88 L447.73,299.41 L449.25,300.96 L450.75,302.52 L452.23,304.09 L453.70,305.68 L455.15,307.29 L456.58,308.91 L457.99,310.54 L459.39,312.19 L460.77,313.85 L462.13,315.53 L463.47,317.22 L464.79,318.93 L466.09,320.66 L467.37,322.40 L468.63,324.16 L469.87,325.93 L471.09,327.72 L472.29,329.52 L473.47,331.33 L474.64,333.16 L475.78,335.00 L476.90,336.85 L478.01,338.72 L479.09,340.60 L480.16,342.49 L481.20,344.39 L482.23,346.31 L483.24,348.23 L484.23,350.17 L485.20,352.11 L486.15,354.07 L487.08,356.04 L488.00,358.01 L488.89,360.00 L489.77,361.99 L490.63,363.99 L491.47,366.00 L492.29,368.02 L493.09,370.05 L493.88,372.08 L494.64,374.12 L495.39,376.16 L496.12,378.22 L496.83,380.27 L497.53,382.34 L498.20,384.41 L498.86,386.48 L499.50,388.56 L500.12,390.64 L500.73,392.73 L501.32,394.82 L501.89,396.91 L502.44,399.01 L502.97,401.11 L503.49,403.21 L503.99,405.32 L504.47,407.42 L504.94,409.53 L505.39,411.64 L505.82,413.75 L506.23,415.86 L506.63,417.96" stroke="#9467bd" stroke-dasharray="7.4 3.2"/>
</g>
<rect x="64.00" y="84.00" width="446.30" height="332.30" fill="none" stroke="#000" stroke-width="1.1"/>
<path d="M64.00,416.30v3.5M97.59,416.30v2.0M117.25,416.30v2.0M131.19,416.30v2.0M142.01,416.30v2.0M150.84,416.30v2.0M158.31,416.30v2.0M164.78,416.30v2.0M170.49,416.30v2.0M175.60,416.30v3.5M209.19,416.30v2.0M228.85,416.30v2.0M242.79,416.30v2.0M253.61,416.30v2.0M262.44,416.30v2.0M269.91,416.30v2.0M276.38,416.30v2.0M282.09,416.30v2.0M287.20,416.30v3.5M320.79,416.30v2.0M340.45,416.30v2.0M354.39,416.30v2.0M365.21,416.30v2.0M374.04,416.30v2.0M381.51,416.30v2.0M387.98,416.30v2.0M393.69,416.30v2.0M398.80,416.30v3.5M432.39,416.30v2.0M452.05,416.30v2.0M465.99,416.30v2.0M476.81,416.30v2.0M485.64,416.30v2.0M493.11,416.30v2.0M499.58,416.30v2.0M505.29,416.30v2.0M510.40,416.30v3.5M64.00,416.47h-3.5M64.00,386.17h-2.0M64.00,368.44h-2.0M64.00,355.86h-2.0M64.00,346.10h-2.0M64.00,338.13h-2.0M64.00,331.39h-2.0M64.00,325.56h-2.0M64.00,320.41h-2.0M64.00,315.80h-3.5M64.00,285.50h-2.0M64.00,267.77h-2.0M64.00,255.19h-2.0M64.00,245.43h-2.0M64.00,237.46h-2.0M64.00,230.72h-2.0M64.00,224.89h-2.0M64.00,219.74h-2.0M64.00,215.13h-3.5M64.00,184.83h-2.0M64.00,167.10h-2.0M64.00,154.52h-2.0M64.00,144.76h-2.0M64.00,136.79h-2.0M64.00,130.05h-2.0M64.00,124.22h-2.0M64.00,119.07h-2.0M64.00,114.46h-3.5M64.00,84.16h-2.0" stroke="#000" stroke-width="0.9" fill="none"/>
<rect x="15.0" y="9.6" width="534.2" height="61.6" rx="2.5" fill="#9a9a9a" opacity="0.55"/>
<rect x="13.0" y="7.6" width="533.9" height="61.5" rx="2.5" fill="#fff" stroke="#cccccc" stroke-width="1"/>
<path d="M19.9,23.7H62.0" stroke="#000000" stroke-width="2.6"/>
<path d="M19.9,50.2H62.0" stroke="#2ca02c" stroke-width="2.6"/>
<path d="M226.7,23.9H268.6" stroke="#d62728" stroke-width="2.6"/>
<path d="M226.7,50.3H268.6" stroke="#1f77b4" stroke-width="2.6"/>
<path d="M390.0,23.9H432.8" stroke="#9467bd" stroke-width="2.6"/>
<rect x="210.0" y="349.1" width="154.0" height="56.6" rx="3.5" fill="#fff" fill-opacity="0.8" stroke="#cfcfcf" stroke-width="1"/>
<path d="M215.4,361.4H257.1" stroke="#555" stroke-width="2"/>
<path d="M216.0,390.1H257.1" stroke="#555" stroke-width="2" stroke-dasharray="5.9 2.1"/>
<g fill="#000" font-family="Liberation Serif" style="will-change:transform"><text x="69.10" y="30.90" font-size="20" textLength="14.30" lengthAdjust="spacingAndGlyphs">Δ</text>
<text x="87.20" y="30.90" font-size="20" textLength="25.99" lengthAdjust="spacingAndGlyphs">ET</text>
<path d="M115.1,25.0H125.9" stroke="#000" stroke-width="1.0"/>
<text x="130.00" y="30.90" font-size="20" textLength="13.50" lengthAdjust="spacingAndGlyphs">D</text>
<text x="148.90" y="30.90" font-size="20" textLength="64.11" lengthAdjust="spacingAndGlyphs">(HFLF)</text>
<text x="69.10" y="56.30" font-size="20" textLength="14.30" lengthAdjust="spacingAndGlyphs">Δ</text>
<text x="88.00" y="56.30" font-size="20" textLength="17.00" lengthAdjust="spacingAndGlyphs">10</text>
<text x="108.30" y="56.30" font-size="20" textLength="24.40" lengthAdjust="spacingAndGlyphs">km</text>
<text x="277.00" y="30.90" font-size="20" textLength="13.50" lengthAdjust="spacingAndGlyphs">Δ</text>
<text x="294.80" y="30.90" font-size="20" textLength="17.30" lengthAdjust="spacingAndGlyphs">15</text>
<text x="316.10" y="30.90" font-size="20" textLength="24.40" lengthAdjust="spacingAndGlyphs">km</text>
<text x="277.00" y="56.30" font-size="20" textLength="18.80" lengthAdjust="spacingAndGlyphs">2L</text>
<text x="300.20" y="56.30" font-size="20" textLength="24.40" lengthAdjust="spacingAndGlyphs">45°</text>
<text x="329.60" y="56.30" font-size="20" textLength="16.80" lengthAdjust="spacingAndGlyphs">15</text>
<text x="350.40" y="56.30" font-size="20" textLength="23.80" lengthAdjust="spacingAndGlyphs">km</text>
<text x="439.10" y="30.90" font-size="20" textLength="20.10" lengthAdjust="spacingAndGlyphs">2L</text>
<text x="462.50" y="30.90" font-size="20" textLength="26.40" lengthAdjust="spacingAndGlyphs">45°</text>
<text x="491.70" y="30.90" font-size="20" textLength="19.50" lengthAdjust="spacingAndGlyphs">20</text>
<text x="514.90" y="30.90" font-size="20" textLength="23.40" lengthAdjust="spacingAndGlyphs">km</text>
<text x="37.80" y="119.50" font-size="15.4" textLength="13.10" lengthAdjust="spacingAndGlyphs">10</text>
<text x="52.30" y="113.90" font-size="10.5" textLength="4.90" lengthAdjust="spacingAndGlyphs">2</text>
<text x="37.80" y="220.10" font-size="15.4" textLength="13.10" lengthAdjust="spacingAndGlyphs">10</text>
<text x="53.00" y="214.50" font-size="10.5" textLength="3.20" lengthAdjust="spacingAndGlyphs">1</text>
<text x="37.80" y="320.80" font-size="15.4" textLength="13.10" lengthAdjust="spacingAndGlyphs">10</text>
<text x="52.30" y="315.20" font-size="10.5" textLength="4.90" lengthAdjust="spacingAndGlyphs">0</text>
<text x="29.50" y="421.50" font-size="15.4" textLength="12.90" lengthAdjust="spacingAndGlyphs">10</text>
<path d="M45.1,413.4H51.1" stroke="#000" stroke-width="0.7"/>
<text x="52.90" y="415.90" font-size="10.5" textLength="3.20" lengthAdjust="spacingAndGlyphs">1</text>
<text x="54.60" y="433.80" font-size="15.4" textLength="13.70" lengthAdjust="spacingAndGlyphs">10</text>
<text x="69.30" y="429.20" font-size="10.5" textLength="4.70" lengthAdjust="spacingAndGlyphs">0</text>
<text x="166.20" y="433.80" font-size="15.4" textLength="13.70" lengthAdjust="spacingAndGlyphs">10</text>
<text x="181.40" y="429.20" font-size="10.5" textLength="3.20" lengthAdjust="spacingAndGlyphs">1</text>
<text x="277.80" y="433.80" font-size="15.4" textLength="13.70" lengthAdjust="spacingAndGlyphs">10</text>
<text x="292.50" y="429.20" font-size="10.5" textLength="4.70" lengthAdjust="spacingAndGlyphs">2</text>
<text x="389.40" y="433.80" font-size="15.4" textLength="13.70" lengthAdjust="spacingAndGlyphs">10</text>
<text x="404.10" y="429.20" font-size="10.5" textLength="4.70" lengthAdjust="spacingAndGlyphs">3</text>
<text x="501.00" y="433.80" font-size="15.4" textLength="13.70" lengthAdjust="spacingAndGlyphs">10</text>
<text x="515.70" y="429.20" font-size="10.5" textLength="4.70" lengthAdjust="spacingAndGlyphs">4</text>
<text x="247.52" y="456.10" font-size="21" textLength="15.15" lengthAdjust="spacingAndGlyphs" font-style="italic">M</text>
<text x="264.40" y="458.60" font-size="14.5" textLength="16.99" lengthAdjust="spacingAndGlyphs">tot</text>
<text x="287.10" y="456.10" font-size="21" textLength="4.90" lengthAdjust="spacingAndGlyphs">(</text>
<text x="292.60" y="456.10" font-size="21" textLength="17.30" lengthAdjust="spacingAndGlyphs">M</text>
<text x="320.80" y="456.10" font-size="21" textLength="4.50" lengthAdjust="spacingAndGlyphs">)</text>
<circle cx="314.6" cy="455.7" r="4.3" fill="none" stroke="#000" stroke-width="0.9"/><circle cx="314.6" cy="455.7" r="0.9"/>
<g transform="translate(21.6,263.8) rotate(-90)"><text x="0.25" y="0.00" font-size="19" textLength="7.96" lengthAdjust="spacingAndGlyphs" font-style="italic">z</text><text x="8.20" y="2.40" font-size="14.5" textLength="19.60" lengthAdjust="spacingAndGlyphs">hor</text><g fill="none" stroke="#fff" stroke-width="0.2"><text x="0.25" y="0.00" font-size="19" textLength="7.96" lengthAdjust="spacingAndGlyphs" font-style="italic">z</text><text x="8.20" y="2.40" font-size="14.5" textLength="19.60" lengthAdjust="spacingAndGlyphs">hor</text></g></g>
<text x="273.10" y="369.00" font-size="20" textLength="46.91" lengthAdjust="spacingAndGlyphs">HFLF</text>
<text x="325.50" y="369.00" font-size="20" textLength="32.50" lengthAdjust="spacingAndGlyphs">cryo</text>
<text x="273.10" y="395.10" font-size="20" textLength="24.41" lengthAdjust="spacingAndGlyphs">HF</text>
<text x="301.10" y="395.10" font-size="20" textLength="33.40" lengthAdjust="spacingAndGlyphs">only</text></g>
<g fill="none" stroke="#fff" stroke-width="0.15" font-family="Liberation Serif" style="will-change:transform"><text x="69.10" y="30.90" font-size="20" textLength="14.30" lengthAdjust="spacingAndGlyphs">Δ</text><text x="87.20" y="30.90" font-size="20" textLength="25.99" lengthAdjust="spacingAndGlyphs">ET</text><text x="130.00" y="30.90" font-size="20" textLength="13.50" lengthAdjust="spacingAndGlyphs">D</text><text x="148.90" y="30.90" font-size="20" textLength="64.11" lengthAdjust="spacingAndGlyphs">(HFLF)</text><text x="69.10" y="56.30" font-size="20" textLength="14.30" lengthAdjust="spacingAndGlyphs">Δ</text><text x="88.00" y="56.30" font-size="20" textLength="17.00" lengthAdjust="spacingAndGlyphs">10</text><text x="108.30" y="56.30" font-size="20" textLength="24.40" lengthAdjust="spacingAndGlyphs">km</text><text x="277.00" y="30.90" font-size="20" textLength="13.50" lengthAdjust="spacingAndGlyphs">Δ</text><text x="294.80" y="30.90" font-size="20" textLength="17.30" lengthAdjust="spacingAndGlyphs">15</text><text x="316.10" y="30.90" font-size="20" textLength="24.40" lengthAdjust="spacingAndGlyphs">km</text><text x="277.00" y="56.30" font-size="20" textLength="18.80" lengthAdjust="spacingAndGlyphs">2L</text><text x="300.20" y="56.30" font-size="20" textLength="24.40" lengthAdjust="spacingAndGlyphs">45°</text><text x="329.60" y="56.30" font-size="20" textLength="16.80" lengthAdjust="spacingAndGlyphs">15</text><text x="350.40" y="56.30" font-size="20" textLength="23.80" lengthAdjust="spacingAndGlyphs">km</text><text x="439.10" y="30.90" font-size="20" textLength="20.10" lengthAdjust="spacingAndGlyphs">2L</text><text x="462.50" y="30.90" font-size="20" textLength="26.40" lengthAdjust="spacingAndGlyphs">45°</text><text x="491.70" y="30.90" font-size="20" textLength="19.50" lengthAdjust="spacingAndGlyphs">20</text><text x="514.90" y="30.90" font-size="20" textLength="23.40" lengthAdjust="spacingAndGlyphs">km</text><text x="247.52" y="456.10" font-size="21" textLength="15.15" lengthAdjust="spacingAndGlyphs" font-style="italic">M</text><text x="287.10" y="456.10" font-size="21" textLength="4.90" lengthAdjust="spacingAndGlyphs">(</text><text x="292.60" y="456.10" font-size="21" textLength="17.30" lengthAdjust="spacingAndGlyphs">M</text><text x="320.80" y="456.10" font-size="21" textLength="4.50" lengthAdjust="spacingAndGlyphs">)</text><text x="273.10" y="369.00" font-size="20" textLength="46.91" lengthAdjust="spacingAndGlyphs">HFLF</text><text x="325.50" y="369.00" font-size="20" textLength="32.50" lengthAdjust="spacingAndGlyphs">cryo</text><text x="273.10" y="395.10" font-size="20" textLength="24.41" lengthAdjust="spacingAndGlyphs">HF</text><text x="301.10" y="395.10" font-size="20" textLength="33.40" lengthAdjust="spacingAndGlyphs">only</text></g>
</svg>
</body></html>
